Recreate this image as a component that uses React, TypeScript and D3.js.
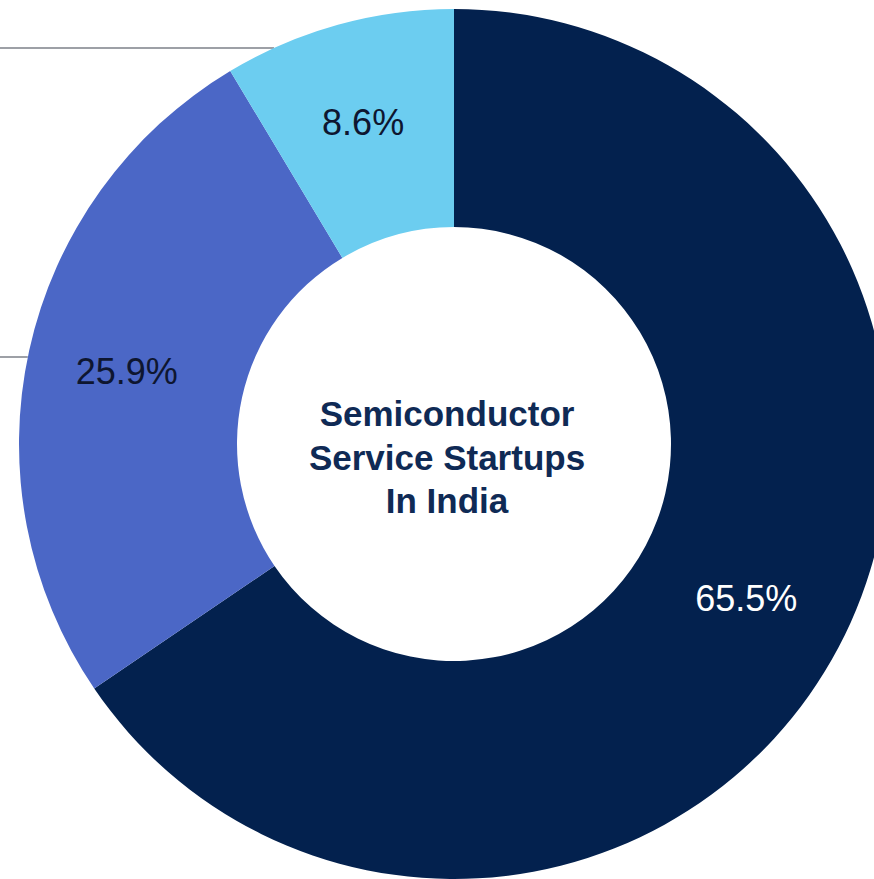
import React from "react";
import * as d3 from "d3";

const categories = ["Category A", "Category B", "Category C"];
const values = [65.5, 25.9, 8.6];
const valueLabels = ["65.5%", "25.9%", "8.6%"];
const colors = ["#03214e", "#4b67c6", "#6ccdf0"];
const labelColors = ["#ffffff", "#0e1630", "#0e1630"];
const centerLines = ["Semiconductor", "Service Startups", "In India"];

const W = 874;
const H = 879;
const CX = 454;
const CY = 444;
const R_OUT = 435;
const R_IN = 217;
const LABEL_R = 333;

export default function App() {
  const pie = d3
    .pie<number>()
    .value((d) => d)
    .sort(null)
    .startAngle(0)
    .endAngle(2 * Math.PI);
  const arcs = pie(values);
  const arc = d3.arc<d3.PieArcDatum<number>>().innerRadius(R_IN).outerRadius(R_OUT);
  const labelArc = d3.arc<d3.PieArcDatum<number>>().innerRadius(LABEL_R).outerRadius(LABEL_R);

  // leader lines leaving the chart on the left for the two smaller slices
  const leaderYs = [48, 357];
  const edgeX = (y: number) => CX - Math.sqrt(R_OUT * R_OUT - (y - CY) * (y - CY));

  return (
    <svg
      width={W}
      height={H}
      style={{ position: "absolute", left: 0, top: 0, background: "#ffffff" }}
    >
      <rect x={0} y={0} width={W} height={H} fill="#ffffff" />
      {leaderYs.map((y, i) => (
        <line key={i} x1={0} x2={edgeX(y)} y1={y} y2={y} stroke="#7d8088" strokeWidth={1.5} />
      ))}
      <g transform={`translate(${CX},${CY})`}>
        {arcs.map((a, i) => (
          <path key={categories[i]} d={arc(a) || ""} fill={colors[i]} />
        ))}
        {arcs.map((a, i) => {
          const [x, y] = labelArc.centroid(a);
          return (
            <text
              key={"l" + i}
              x={x - 2}
              y={y - 1}
              textAnchor="middle"
              dominantBaseline="central"
              fontFamily="'Liberation Sans', Arial, sans-serif"
              fontSize={36}
              fill={labelColors[i]}
            >
              {valueLabels[i]}
            </text>
          );
        })}
        <text
          textAnchor="middle"
          fontFamily="'Liberation Sans', Arial, sans-serif"
          fontWeight={700}
          fontSize={35}
          fill="#0f2a55"
        >
          {centerLines.map((t, i) => (
            <tspan key={i} x={-7} y={-18 + i * 43.5}>
              {t}
            </tspan>
          ))}
        </text>
      </g>
    </svg>
  );
}
